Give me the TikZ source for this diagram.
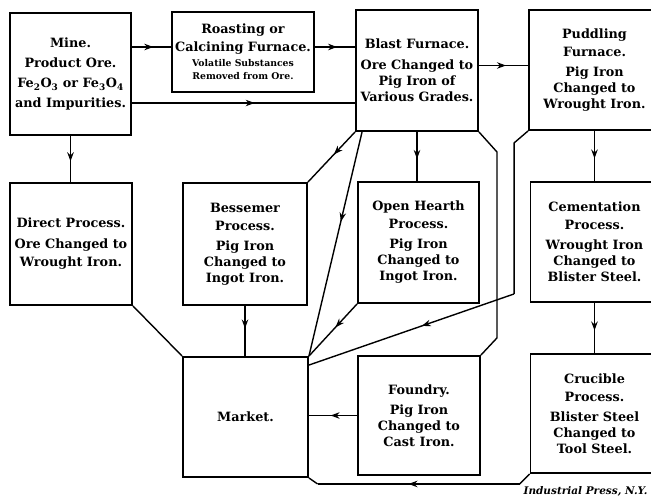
\documentclass[tikz,border=0pt]{standalone}
\usepackage{fontspec}
\setmainfont{DejaVu Serif}
\usetikzlibrary{arrows.meta}
\usetikzlibrary{decorations.markings}

\begin{document}
\begin{tikzpicture}[x=1pt,y=-1pt,
  box/.style 2 args={draw,line width=1.9pt,align=center,
    font=\bfseries\fontsize{12.8}{18}\selectfont,
    minimum width=#1,minimum height=#2},
  conn/.style={line width=1.4pt},
  mid/.style={postaction={decorate,decoration={markings,
    mark=at position #1 with {\arrow{Stealth[length=9pt,width=6.5pt]}}}}},
  mid/.default=0.55]
  \useasboundingbox (0,0) rectangle (651,498);

  \node [box={121}{122}] (MI) at (70.5,74)
    {Mine.\\[2pt] Product Ore.\\[2pt] Fe\textsubscript{2}O\textsubscript{3} or Fe\textsubscript{3}O\textsubscript{4}\\[2pt] and Impurities.};
  \node [box={124}{80}] (RC) at (243,52)
    {Roasting or\\ Calcining Furnace.\\[-3pt]
     {\fontsize{9.3}{12}\selectfont Volatile Substances}\\[-5pt]
     {\fontsize{9.3}{12}\selectfont Removed from Ore.}};
  \node [box={122}{121}] (BF) at (417,70.5)
    {Blast Furnace.\\[3pt] Ore Changed to\\[-2pt] Pig Iron of\\[-2pt] Various Grades.};
  \node [box={131}{120}] (PF) at (594.5,70)
    {Puddling\\ Furnace.\\[2pt] Pig Iron\\[-2pt] Changed to\\[-2pt] Wrought Iron.};

  \node [box={122}{122}] (DP) at (71,244)
    {Direct Process.\\[3pt] Ore Changed to\\ Wrought Iron.};
  \node [box={124}{122}] (BP) at (245,244)
    {Bessemer\\ Process.\\[2pt] Pig Iron\\[-2pt] Changed to\\[-2pt] Ingot Iron.};
  \node [box={121}{121}] (OH) at (418.5,242.5)
    {Open Hearth\\ Process.\\[2pt] Pig Iron\\[-2pt] Changed to\\[-2pt] Ingot Iron.};
  \node [box={128}{120}] (CP) at (594.5,242)
    {Cementation\\ Process.\\[2pt] Wrought Iron\\[-2pt] Changed to\\[-2pt] Blister Steel.};

  \node [box={125}{120}] (MK) at (245.5,417) {Market.};
  \node [box={122}{119}] (FD) at (419,415.5)
    {Foundry.\\[2pt] Pig Iron\\[-2pt] Changed to\\[-2pt] Cast Iron.};
  \node [box={128}{119}] (CR) at (594.5,413.5)
    {Crucible\\ Process.\\[2pt] Blister Steel\\[-2pt] Changed to\\[-2pt] Tool Steel.};

  \node [anchor=east,font=\bfseries\itshape\fontsize{10.5}{12}\selectfont] (IP) at (651,491)
    {Industrial Press, N.Y.};

  \coordinate (A) at ([yshift=5pt]RC.west);
  \coordinate (B) at ([yshift=-29pt]MI.east);
  \draw [conn,mid] (MI.east |- A) -- (A);
  \draw [conn,mid] (RC.east |- A) -- (BF.west |- A);
  \draw [conn,mid] (B) -- (BF.west |- B);
  \draw [conn,mid] ([yshift=5pt]BF.east) -- ([yshift=5pt]BF.east -| PF.west);

  \draw [conn,mid] (MI.south) -- (MI.south |- DP.north);
  \draw [conn,mid=0.45] (BF.south west) -- (BP.north east);
  \draw [conn,mid=0.4] ([xshift=7pt]BF.south west) -- (MK.north east);
  \draw [conn,mid] (BF.south) -- (BF.south |- OH.north);
  \draw [conn] (BF.south east) -- ++(18,20) -- ++(0,186) -- (FD.north east);
  \draw [conn] (PF.south west) -- ++(-14,12) -- ++(0,151) coordinate (P);
  \draw [conn,mid=0.45] (P) -- ([yshift=-9pt]MK.north east);
  \draw [conn,mid] (PF.south) -- (PF.south |- CP.north);
  \draw [conn,mid] (CP.south) -- (CP.south |- CR.north);

  \draw [conn] (DP.south east) -- (MK.north west);
  \draw [conn,mid=0.45] (BP.south) -- (BP.south |- MK.north);
  \draw [conn,mid=0.45] (OH.south west) -- (MK.north east);
  \draw [conn,mid] (FD.west) -- (FD.west -| MK.east);
  \draw [conn] (CR.south west) -- ++(-10,10) coordinate (C);
  \draw [conn,mid] (C) -- ++(-202,0) coordinate (D);
  \draw [conn] (D) -- (MK.south east);
\end{tikzpicture}
\end{document}
